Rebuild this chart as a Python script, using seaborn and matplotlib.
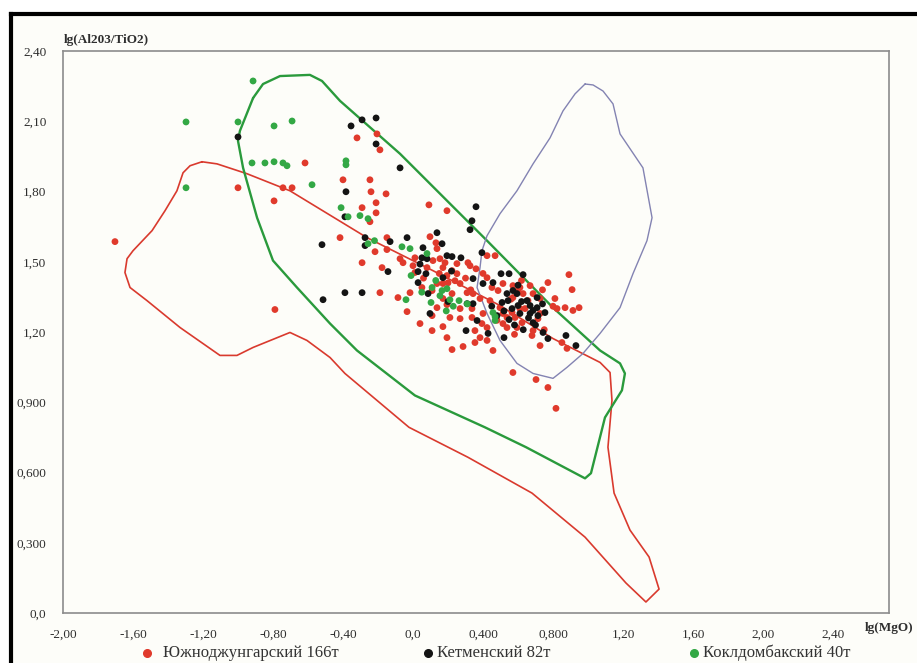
import matplotlib
matplotlib.use('Agg')
import matplotlib.pyplot as plt
import seaborn as sns
import pandas as pd
from matplotlib.lines import Line2D
from matplotlib.patches import Rectangle

# field outlines (lg MgO, lg Al2O3/TiO2)
red_field_x = [-1.206, -1.120, -0.949, -0.703, -0.263, 0.114, 0.497, 0.800, 1.069, 1.126, 1.137,
               1.114, 1.149, 1.240, 1.349, 1.406, 1.331, 1.217, 0.983, 0.680, 0.314, -0.023,
               -0.389, -0.474, -0.606, -0.703, -0.914, -1.006, -1.103, -1.331, -1.520, -1.617,
               -1.646, -1.634, -1.600, -1.491, -1.417, -1.349, -1.314, -1.274, -1.206]
red_field_y = [1.927, 1.918, 1.876, 1.803, 1.603, 1.462, 1.313, 1.172, 1.070, 1.027, 0.908,
               0.708, 0.512, 0.354, 0.239, 0.102, 0.047, 0.128, 0.324, 0.512, 0.665, 0.793,
               1.023, 1.091, 1.164, 1.198, 1.134, 1.100, 1.100, 1.219, 1.334, 1.390,
               1.454, 1.513, 1.547, 1.633, 1.718, 1.803, 1.880, 1.910, 1.927]

green_field_x = [-0.914, -0.857, -0.760, -0.589, -0.520, -0.417, -0.074, 0.423, 0.800, 1.069,
                 1.183, 1.211, 1.194, 1.097, 1.017, 0.983, 0.646, 0.411, 0.011, -0.320, -0.474,
                 -0.663, -0.800, -0.891, -0.971, -1.000, -0.989, -0.914]
green_field_y = [2.199, 2.259, 2.293, 2.298, 2.272, 2.187, 1.961, 1.590, 1.304, 1.121,
                 1.066, 1.023, 0.951, 0.835, 0.597, 0.575, 0.708, 0.793, 0.929, 1.121, 1.236,
                 1.390, 1.505, 1.688, 1.901, 2.016, 2.059, 2.199]

blue_field_x = [0.983, 1.029, 1.086, 1.143, 1.183, 1.314, 1.366, 1.337, 1.257, 1.183, 1.069,
                0.971, 0.880, 0.800, 0.686, 0.594, 0.497, 0.423, 0.366, 0.383, 0.394, 0.423,
                0.497, 0.594, 0.686, 0.783, 0.857, 0.926, 0.983]
blue_field_y = [2.259, 2.255, 2.229, 2.174, 2.046, 1.901, 1.688, 1.590, 1.449, 1.304, 1.194,
                1.108, 1.049, 1.002, 1.023, 1.066, 1.164, 1.279, 1.390, 1.475, 1.547, 1.611,
                1.705, 1.803, 1.918, 2.029, 2.144, 2.217, 2.259]

# Южноджунгарский
red_x = [-1.703, -1.000, -0.794, -0.743, -0.691, -0.617, -0.789, -0.320, -0.206, -0.189,
         -0.400, -0.246, -0.240, -0.154, -0.211, -0.291, -0.211, -0.246, 0.091, 0.194,
         -0.417, -0.149, -0.217, -0.291, -0.177, -0.189, -0.086, -0.034, 0.097, 0.131,
         0.137, -0.149, -0.057, 0.000, 0.011, -0.074, 0.011, 0.080, 0.114, 0.154,
         0.183, 0.171, 0.223, 0.251, 0.251, 0.240, 0.269, 0.314, 0.326, 0.171,
         0.194, 0.137, 0.051, 0.109, -0.017, 0.223, 0.194, 0.309, 0.343, 0.383,
         0.337, 0.269, 0.171, 0.109, 0.040, 0.109, 0.194, 0.223, 0.286, 0.354,
         0.457, 0.394, 0.400, 0.423, 0.469, 0.423, 0.451, 0.486, 0.514, 0.571,
         0.571, 0.600, 0.629, 0.657, 0.686, 0.726, 0.611, 0.537, 0.583, 0.623,
         0.686, 0.714, 0.726, 0.669, 0.514, 0.514, 0.423, 0.383, 0.680, 0.726,
         0.771, 0.891, 0.909, 0.811, 0.823, 0.869, 0.914, 0.949, 0.880, 0.851,
         0.571, 0.703, 0.771, 0.817, 0.611, 0.497, 0.566, 0.594, 0.537, 0.423,
         0.354, 0.269, 0.211, 0.440, 0.337, 0.137, 0.171, 0.300, 0.360, 0.620,
         0.740, 0.800, 0.560, 0.480, 0.640, 0.060, 0.150, 0.200, 0.400, 0.750,
         0.580, 0.330]
red_y = [1.586, 1.816, 1.760, 1.816, 1.816, 1.922, 1.296, 2.029, 2.046, 1.978,
         1.850, 1.850, 1.799, 1.790, 1.752, 1.731, 1.709, 1.671, 1.743, 1.718,
         1.603, 1.603, 1.543, 1.496, 1.475, 1.368, 1.347, 1.287, 1.607, 1.581,
         1.556, 1.552, 1.496, 1.483, 1.517, 1.513, 1.454, 1.475, 1.505, 1.513,
         1.496, 1.475, 1.462, 1.492, 1.449, 1.419, 1.407, 1.496, 1.483, 1.407,
         1.441, 1.407, 1.390, 1.377, 1.368, 1.364, 1.317, 1.368, 1.364, 1.343,
         1.300, 1.257, 1.223, 1.270, 1.236, 1.206, 1.176, 1.125, 1.138, 1.155,
         1.121, 1.236, 1.279, 1.526, 1.526, 1.432, 1.390, 1.377, 1.407, 1.398,
         1.347, 1.377, 1.364, 1.334, 1.364, 1.343, 1.300, 1.262, 1.262, 1.240,
         1.206, 1.257, 1.279, 1.398, 1.236, 1.279, 1.219, 1.176, 1.185, 1.142,
         1.411, 1.445, 1.381, 1.343, 1.300, 1.304, 1.292, 1.304, 1.130, 1.155,
         1.027, 0.997, 0.963, 0.874, 1.390, 1.304, 1.283, 1.219, 1.219, 1.164,
         1.206, 1.300, 1.262, 1.334, 1.262, 1.304, 1.343, 1.430, 1.470, 1.420,
         1.380, 1.310, 1.340, 1.250, 1.300, 1.430, 1.450, 1.410, 1.450, 1.210,
         1.190, 1.380]

# Кетменский
black_x = [-1.000, -0.354, -0.291, -0.211, -0.211, -0.074, -0.383, -0.389, -0.274, -0.274,
           -0.520, -0.131, -0.034, 0.057, 0.051, 0.137, 0.166, 0.194, 0.223, 0.274,
           0.360, 0.337, 0.326, 0.394, -0.143, 0.029, 0.074, 0.029, 0.171, -0.389,
           -0.291, -0.514, 0.086, 0.097, 0.200, 0.309, 0.343, 0.366, 0.303, 0.429,
           0.520, 0.343, 0.400, 0.457, 0.503, 0.549, 0.629, 0.509, 0.543, 0.549,
           0.600, 0.594, 0.651, 0.669, 0.686, 0.669, 0.709, 0.709, 0.754, 0.686,
           0.611, 0.537, 0.743, 0.771, 0.874, 0.931, 0.571, 0.480, 0.714, 0.566,
           0.080, 0.620, 0.660, 0.520, 0.580, 0.700, 0.450, 0.630, 0.740, 0.040,
           0.220, 0.600]
black_y = [2.033, 2.080, 2.106, 2.114, 2.003, 1.901, 1.799, 1.692, 1.603, 1.569,
           1.573, 1.586, 1.603, 1.560, 1.517, 1.624, 1.577, 1.526, 1.522, 1.517,
           1.735, 1.675, 1.637, 1.539, 1.458, 1.458, 1.449, 1.411, 1.432, 1.368,
           1.368, 1.338, 1.364, 1.279, 1.330, 1.321, 1.321, 1.249, 1.206, 1.194,
           1.176, 1.428, 1.407, 1.411, 1.449, 1.449, 1.445, 1.326, 1.334, 1.253,
           1.313, 1.364, 1.334, 1.313, 1.292, 1.279, 1.304, 1.347, 1.283, 1.240,
           1.279, 1.364, 1.198, 1.172, 1.185, 1.142, 1.377, 1.270, 1.270, 1.300,
           1.513, 1.330, 1.260, 1.290, 1.230, 1.230, 1.310, 1.210, 1.320, 1.490,
           1.460, 1.400]

# Коклдомбакский
green_x = [-1.297, -1.000, -0.794, -0.691, -0.914, -0.920, -0.846, -0.794, -0.743, -0.720,
           -0.383, -0.383, -1.297, -0.577, -0.411, -0.371, -0.303, -0.257, -0.257, -0.063,
           -0.017, 0.080, -0.011, 0.109, 0.166, 0.194, 0.154, 0.211, 0.263, 0.103,
           -0.040, 0.457, 0.469, 0.469, 0.130, 0.230, 0.050, 0.190, 0.310, -0.220]
green_y = [2.097, 2.097, 2.080, 2.101, 2.272, 1.922, 1.922, 1.927, 1.922, 1.910,
           1.931, 1.914, 1.816, 1.829, 1.731, 1.692, 1.697, 1.684, 1.577, 1.564,
           1.556, 1.535, 1.441, 1.390, 1.377, 1.385, 1.355, 1.338, 1.334, 1.326,
           1.338, 1.283, 1.266, 1.249, 1.420, 1.310, 1.370, 1.290, 1.320, 1.590]

group_names = ['Южноджунгарский 166т', 'Кетменский 82т', 'Коклдомбакский 40т']
group_colors = ['#e03a2c', '#141414', '#33a845']

xtick_vals = [-2.0, -1.6, -1.2, -0.8, -0.4, 0.0, 0.4, 0.8, 1.2, 1.6, 2.0, 2.4]
xtick_labels = ['-2,00', '-1,60', '-1,20', '-0,80', '-0,40', '0,0', '0,400', '0,800',
                '1,20', '1,60', '2,00', '2,40']
ytick_vals = [0.0, 0.3, 0.6, 0.9, 1.2, 1.5, 1.8, 2.1, 2.4]
ytick_labels = ['0,0', '0,300', '0,600', '0,900', '1,20', '1,50', '1,80', '2,10', '2,40']

df = pd.concat([
    pd.DataFrame({'x': red_x, 'y': red_y, 'group': group_names[0]}),
    pd.DataFrame({'x': black_x, 'y': black_y, 'group': group_names[1]}),
    pd.DataFrame({'x': green_x, 'y': green_y, 'group': group_names[2]}),
], ignore_index=True)

sns.set_style('white')
plt.rcParams['font.family'] = ['Liberation Serif', 'DejaVu Serif']

W, H = 917, 663
fig = plt.figure(figsize=(W / 100, H / 100), dpi=100, facecolor='white')
bg = '#fdfdf9'
fig.add_artist(Rectangle((11 / W, 0), 1, (H - 14) / H, transform=fig.transFigure,
                         facecolor=bg, edgecolor='none', zorder=-10))
ax = fig.add_axes([63 / W, (H - 613) / H, (889 - 63) / W, (613 - 51) / H])
ax.set_facecolor(bg)

# field outlines
ax.plot(red_field_x, red_field_y, color='#d93a2e', lw=1.2, zorder=2)
ax.plot(green_field_x, green_field_y, color='#2a9a3c', lw=1.7, zorder=2)
ax.plot(blue_field_x, blue_field_y, color='#8383b2', lw=1.0, zorder=2)

sns.scatterplot(data=df, x='x', y='y', hue='group', hue_order=group_names,
                palette=dict(zip(group_names, group_colors)), s=24, linewidth=0,
                legend=False, ax=ax, zorder=3)

ax.set_xlim(-2.0, 2.72)
ax.set_ylim(0, 2.4)
ax.set_xticks(xtick_vals)
ax.set_xticklabels(xtick_labels)
ax.set_yticks(ytick_vals)
ax.set_yticklabels(ytick_labels)
ax.set_xlabel('')
ax.set_ylabel('')
for sp in ax.spines.values():
    sp.set_color('#8c8c8c')
    sp.set_linewidth(1.2)
ax.tick_params(axis='both', direction='out', length=9, width=1.1, color='#707070',
               labelsize=9.5, labelcolor='#2e2e2e')
ax.tick_params(axis='x', pad=2)
ax.tick_params(axis='y', pad=3)

fig.text(64 / W, (H - 40) / H, 'lg(Al203/TiO2)', fontsize=9.5, fontweight='bold',
         color='#2e2e2e', ha='left', va='center')
fig.text(865 / W, (H - 628) / H, 'lg(MgO)', fontsize=9.5, fontweight='bold',
         color='#2e2e2e', ha='left', va='center')

# legend row at the bottom
legend_pos = [(147, 163), (428, 437), (694, 703)]
for (dot_x, txt_x), name, col in zip(legend_pos, group_names, group_colors):
    fig.add_artist(Line2D([dot_x / W], [(H - 653) / H], marker='o', markersize=5.5,
                          color=col, linestyle='none', transform=fig.transFigure))
    fig.text(txt_x / W, (H - 653) / H, name, fontsize=12, color='#333333',
             ha='left', va='center')

# thick black frame (left and top)
fig.add_artist(Line2D([11 / W, 11 / W], [0, (H - 14) / H], color='black', lw=3,
                      transform=fig.transFigure, solid_capstyle='projecting'))
fig.add_artist(Line2D([11 / W, 1], [(H - 14) / H, (H - 14) / H], color='black', lw=3,
                      transform=fig.transFigure, solid_capstyle='projecting'))

fig.savefig('out.png', dpi=100, facecolor='white')
